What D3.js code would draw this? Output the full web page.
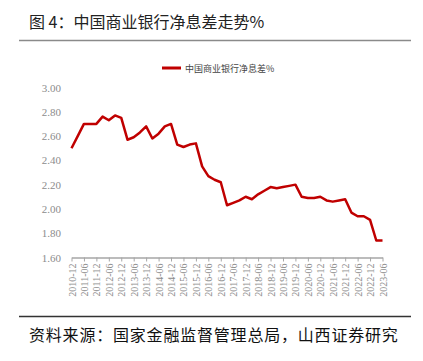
<!DOCTYPE html>
<html><head><meta charset="utf-8">
<script src="https://cdn.jsdelivr.net/npm/d3@7/dist/d3.min.js"></script>
<style>body{margin:0;background:#fff;}svg{display:block;}</style>
</head><body><svg id="c" width="423" height="361"></svg>
<script>
const title = "图 4：中国商业银行净息差走势%";
const seriesName = "中国商业银行净息差%";
const source = "资料来源：国家金融监督管理总局，山西证券研究";
const quarters = ["2010-12","2011-03","2011-06","2011-09","2011-12","2012-03","2012-06","2012-09","2012-12",
"2013-03","2013-06","2013-09","2013-12","2014-03","2014-06","2014-09","2014-12",
"2015-03","2015-06","2015-09","2015-12","2016-03","2016-06","2016-09","2016-12",
"2017-03","2017-06","2017-09","2017-12","2018-03","2018-06","2018-09","2018-12",
"2019-03","2019-06","2019-09","2019-12","2020-03","2020-06","2020-09","2020-12",
"2021-03","2021-06","2021-09","2021-12","2022-03","2022-06","2022-09","2022-12",
"2023-03","2023-06"];
const nim = [2.50,2.60,2.70,2.70,2.70,2.76,2.73,2.77,2.75,
2.57,2.59,2.63,2.68,2.58,2.62,2.68,2.70,
2.53,2.51,2.53,2.54,2.35,2.27,2.24,2.22,
2.03,2.05,2.07,2.10,2.08,2.12,2.15,2.18,
2.17,2.18,2.19,2.20,2.10,2.09,2.09,2.10,
2.07,2.06,2.07,2.08,1.97,1.94,1.94,1.91,
1.74,1.74];
const xTickLabels = quarters.filter(q => q.endsWith("-06") || q.endsWith("-12"));
const yTicks = [1.60,1.80,2.00,2.20,2.40,2.60,2.80,3.00];

const svg = d3.select("#c");
const x = d3.scalePoint().domain(quarters).range([71.5, 382.5]);
const y = d3.scaleLinear().domain([1.6, 3.0]).range([257.5, 87.5]);

// title
svg.append("text").attr("x", 29).attr("y", 28).text(title)
  .attr("font-family", "'Noto Sans CJK SC'").attr("font-size", 16).attr("fill", "#222");
svg.append("line").attr("x1", 19).attr("x2", 411).attr("y1", 40.5).attr("y2", 40.5)
  .attr("stroke", "#8a8a8a").attr("stroke-width", 1.5);

// legend
svg.append("line").attr("x1", 162).attr("x2", 181).attr("y1", 68).attr("y2", 68)
  .attr("stroke", "#c00000").attr("stroke-width", 3);
svg.append("text").attr("x", 185).attr("y", 71.5).text(seriesName)
  .attr("font-family", "'Noto Sans CJK SC'").attr("font-size", 9).attr("fill", "#444");

// y axis labels
const ya = svg.append("g").attr("transform", "translate(61,0)")
  .call(d3.axisLeft(y).tickValues(yTicks).tickFormat(d3.format(".2f")).tickSize(0).tickPadding(0));
ya.select(".domain").remove();
ya.selectAll("text").attr("font-family", "'Liberation Serif'").attr("font-size", 11).attr("fill", "#8c8c8c");

// x axis
const xa = svg.append("g").attr("transform", "translate(0,257.5)")
  .call(d3.axisBottom(x).tickValues(xTickLabels).tickSizeOuter(0).tickSizeInner(4));
xa.select(".domain").attr("stroke", "#a6a6a6").attr("stroke-width", 1.5);
xa.selectAll(".tick line").attr("stroke", "#a6a6a6");
xa.selectAll("text").attr("font-family", "'Liberation Serif'").attr("font-size", 10).attr("fill", "#8c8c8c")
  .attr("transform", "rotate(-90)").attr("text-anchor", "end").attr("dx", "-6").attr("dy", "0.35em").attr("x", 0).attr("y", 0);

// line
svg.append("path").datum(nim)
  .attr("d", d3.line().x((d,i) => x(quarters[i])).y(d => y(d)))
  .attr("fill", "none").attr("stroke", "#c00000").attr("stroke-width", 2.5).attr("stroke-linejoin", "round");

// footer
svg.append("line").attr("x1", 19).attr("x2", 411).attr("y1", 316.5).attr("y2", 316.5)
  .attr("stroke", "#333").attr("stroke-width", 1.5);
svg.append("text").attr("x", 29).attr("y", 341).text(source)
  .attr("font-family", "'Noto Sans CJK SC'").attr("font-size", 16).attr("letter-spacing", "0.8px").attr("fill", "#111");
</script></body></html>
